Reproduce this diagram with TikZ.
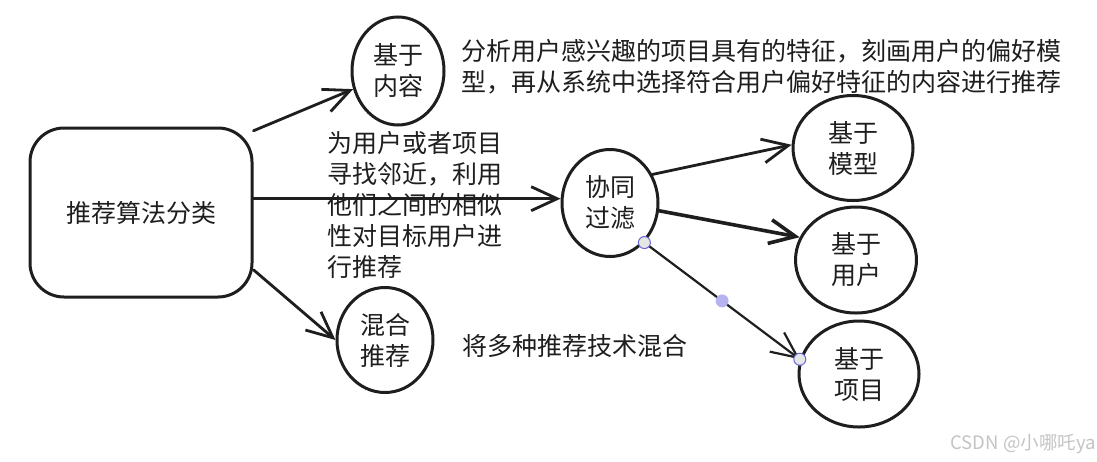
\documentclass[tikz,border=0pt]{standalone}
\usepackage{fontspec}
\setmainfont{Noto Sans CJK SC}
\usetikzlibrary{shapes.geometric,arrows.meta}
\definecolor{ink}{HTML}{1E1E1E}
\definecolor{selb}{HTML}{6965DB}
\definecolor{hgrey}{HTML}{E6E6E6}
\definecolor{hmid}{HTML}{B7B3F0}
\definecolor{wm}{HTML}{C4C4C4}
\begin{document}
\begin{tikzpicture}[x=1pt,y=-1pt,
  txt/.style={font=\fontsize{25}{31}\selectfont, text=ink, inner sep=0pt},
  bubble/.style={ellipse, draw=ink, line width=3pt, inner sep=0pt, align=center, txt},
  boxnode/.style={draw=ink, line width=3pt, rounded corners=34pt, txt},
  arr/.style={draw=ink, line width=2.8pt, line cap=round,
    -{Straight Barb[length=26pt,width=24pt]}},
  handle/.style={circle, draw=selb, fill=hgrey, line width=1pt, minimum size=12pt, inner sep=0pt},
  midhandle/.style={circle, fill=hmid, minimum size=13pt, inner sep=0pt}
]
\fill[white] (0,0) rectangle (1097,461);
\useasboundingbox (0,0) rectangle (1097,461);

% nodes
\node[boxnode, minimum width=222pt, minimum height=169pt] (main) at (141,212.5) {推荐算法分类};
\node[bubble, minimum width=92pt, minimum height=108pt] (content) at (398,71) {基于\\内容};
\node[bubble, minimum width=96pt, minimum height=105pt] (mix) at (385,340) {混合\\推荐};
\node[bubble, minimum width=96pt, minimum height=107pt] (cf) at (610,203) {协同\\过滤};
\node[bubble, minimum width=120pt, minimum height=105pt] (model) at (853,148) {基于\\模型};
\node[bubble, minimum width=121pt, minimum height=106pt] (user) at (856,260) {基于\\用户};
\node[bubble, minimum width=120pt, minimum height=106pt] (item) at (859,374) {基于\\项目};

% texts
\node[txt, anchor=west, align=left] (desc1) at (461,67) {分析用户感兴趣的项目具有的特征，刻画用户的偏好模\\型，再从系统中选择符合用户偏好特征的内容进行推荐};
\node[txt, anchor=west, align=left] (desc2) at (327,205) {为用户或者项目\\寻找邻近，利用\\他们之间的相似\\性对目标用户进\\行推荐};
\node[txt, anchor=west] (desc3) at (462,346) {将多种推荐技术混合};
\node[font=\fontsize{18.5}{22}\selectfont, text=wm, inner sep=0pt, anchor=east] (wmark) at (1096,444) {CSDN @小哪吒ya};

% connectors
\draw[arr] (main.36) -- (content.202);
\draw[arr] (main.7) -- (main.7 -| cf.west);
\draw[arr] (main.-27) -- (mix.west);
\draw[arr] (cf.34) -- (model.177);
\draw[arr, line width=3.6pt] (cf.-9) -- (user.158);
\draw[arr, line width=2.2pt] (cf.-49) -- node[midhandle, pos=0.5] (hm) {} (item.166)
  node[handle, pos=0] (hs) {} node[handle, pos=1] (he) {};
\end{tikzpicture}
\end{document}
